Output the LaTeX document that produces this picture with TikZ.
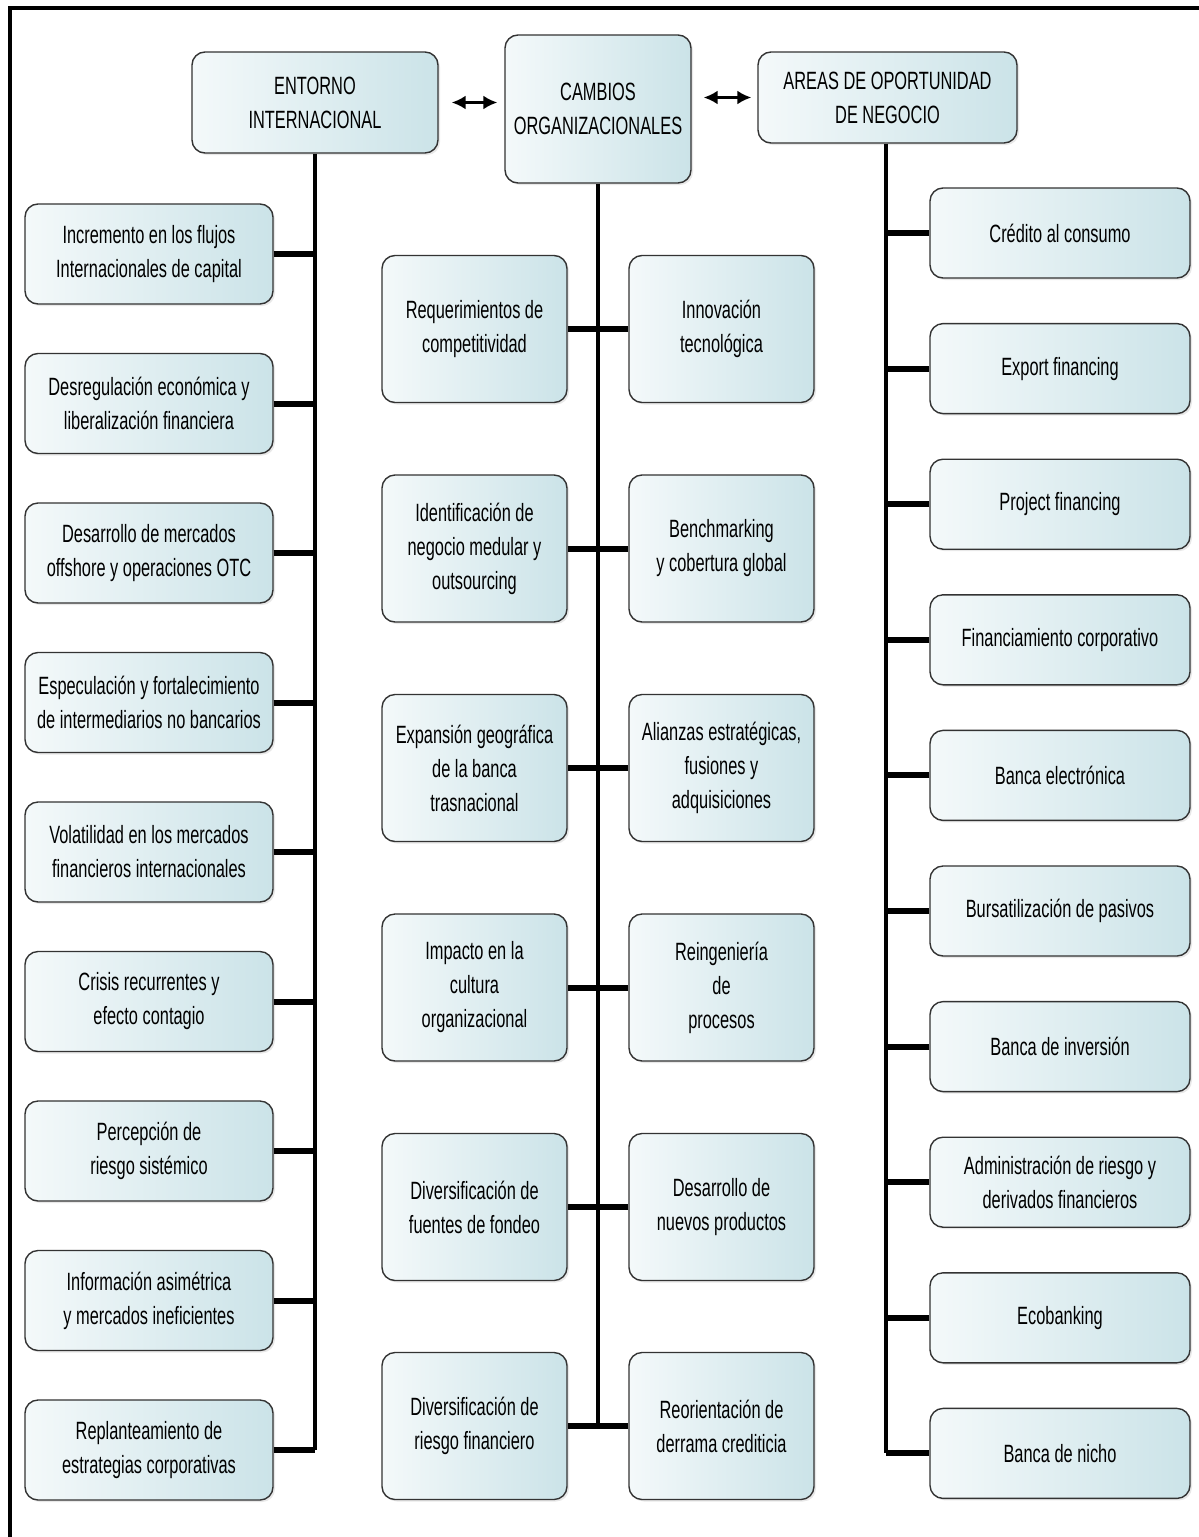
\documentclass[tikz,border=0pt]{standalone}
\usepackage{fontspec}
\setmainfont{Liberation Sans}[FakeStretch=0.655]
\usetikzlibrary{shadows,arrows.meta}
\definecolor{boxlight}{HTML}{F4F9FA}
\definecolor{boxdark}{HTML}{CBE3E8}
\definecolor{boxline}{HTML}{333333}
\tikzset{
  card/.style={draw=boxline, line width=1.4pt, rounded corners=13pt,
    left color=boxlight, right color=boxdark, inner sep=0pt, align=center,
    font=\fontsize{25}{34}\selectfont,
    drop shadow={opacity=0.18, shadow xshift=2pt, shadow yshift=-2pt}},
  head/.style={card, font=\fontsize{25}{34}\selectfont},
  lbox/.style={card, minimum width=248pt, minimum height=100pt},
  mbox/.style={card, minimum width=185pt, minimum height=147pt},
  rbox/.style={card, minimum width=260pt, minimum height=90pt},
  trunk/.style={line width=4.5pt},
  branch/.style={line width=6pt},
  link/.style={line width=2.5pt, {Latex[length=14pt,width=14pt]}-{Latex[length=14pt,width=14pt]}}
}
\begin{document}
\begin{tikzpicture}[x=1pt,y=-1pt]
\useasboundingbox (0,0) rectangle (1199,1537);
\fill[white] (0,0) rectangle (1199,1537);
\draw[line width=3.5pt] (10,1537) -- (10,8) -- (1199,8);

% headers
\node[head, minimum width=246pt, minimum height=101pt] (ent) at (315,102.5) {ENTORNO\\INTERNACIONAL};
\node[head, minimum width=186pt, minimum height=148pt] (camb) at (598,109) {CAMBIOS\\ORGANIZACIONALES};
\node[head, minimum width=259pt, minimum height=91pt] (areas) at (887.5,97.5) {AREAS DE OPORTUNIDAD\\DE NEGOCIO};

\draw[link, shorten <=13pt, shorten >=7pt] (ent.east) -- (ent.east -| camb.west);
\draw[link, shorten <=12pt, shorten >=6pt] (camb.east |- areas.west) -- (areas.west);

% left column
\node[lbox] (l1) at (149,254) {Incremento en los flujos\\Internacionales de capital};
\node[lbox] (l2) at (149,403.5) {Desregulación económica y\\liberalización financiera};
\node[lbox] (l3) at (149,553) {Desarrollo de mercados\\offshore y operaciones OTC};
\node[lbox] (l4) at (149,702.5) {Especulación y fortalecimiento\\de intermediarios no bancarios};
\node[lbox] (l5) at (149,852) {Volatilidad en los mercados\\financieros internacionales};
\node[lbox] (l6) at (149,1001.5) {Crisis recurrentes y\\efecto contagio};
\node[lbox] (l7) at (149,1151) {Percepción de\\riesgo sistémico};
\node[lbox] (l8) at (149,1300.5) {Información asimétrica\\y mercados ineficientes};
\node[lbox] (l9) at (149,1450) {Replanteamiento de\\estrategias corporativas};

% middle column
\node[mbox] (a1) at (474.5,329) {Requerimientos de\\competitividad};
\node[mbox] (b1) at (721.5,329) {Innovación\\tecnológica};
\node[mbox] (a2) at (474.5,548.5) {Identificación de\\negocio medular y\\outsourcing};
\node[mbox] (b2) at (721.5,548.5) {Benchmarking\\y cobertura global};
\node[mbox] (a3) at (474.5,768) {Expansión geográfica\\de la banca\\trasnacional};
\node[mbox] (b3) at (721.5,768) {Alianzas estratégicas,\\fusiones y\\adquisiciones};
\node[mbox] (a4) at (474.5,987.5) {Impacto en la\\cultura\\organizacional};
\node[mbox] (b4) at (721.5,987.5) {Reingeniería\\de\\procesos};
\node[mbox] (a5) at (474.5,1207) {Diversificación de\\fuentes de fondeo};
\node[mbox] (b5) at (721.5,1207) {Desarrollo de\\nuevos productos};
\node[mbox] (a6) at (474.5,1426) {Diversificación de\\riesgo financiero};
\node[mbox] (b6) at (721.5,1426) {Reorientación de\\derrama crediticia};

% right column
\node[rbox] (r1) at (1060,233) {Crédito al consumo};
\node[rbox] (r2) at (1060,368.6) {Export financing};
\node[rbox] (r3) at (1060,504.2) {Project financing};
\node[rbox] (r4) at (1060,639.8) {Financiamiento corporativo};
\node[rbox] (r5) at (1060,775.4) {Banca electrónica};
\node[rbox] (r6) at (1060,911) {Bursatilización de pasivos};
\node[rbox] (r7) at (1060,1046.6) {Banca de inversión};
\node[rbox] (r8) at (1060,1182.2) {Administración de riesgo y\\derivados financieros};
\node[rbox] (r9) at (1060,1317.8) {Ecobanking};
\node[rbox] (r10) at (1060,1453.4) {Banca de nicho};

% left connectors
\draw[trunk] (ent.south) -- (ent.south |- l9.east);
\foreach \i in {1,...,9} \draw[branch] (l\i.east) -- (ent.south |- l\i.east);

% middle connectors
\draw[trunk] (camb.south) -- (camb.south |- a6.east);
\foreach \i in {1,...,6} {
  \draw[branch] (a\i.east) -- (camb.south |- a\i.east);
  \draw[branch] (b\i.west) -- (camb.south |- b\i.west);
}

% right connectors
\coordinate (rt) at (886,0);
\draw[trunk] (areas.south -| rt) -- (rt |- r10.west);
\foreach \i in {1,...,10} \draw[branch] (r\i.west) -- (rt |- r\i.west);
\end{tikzpicture}
\end{document}
